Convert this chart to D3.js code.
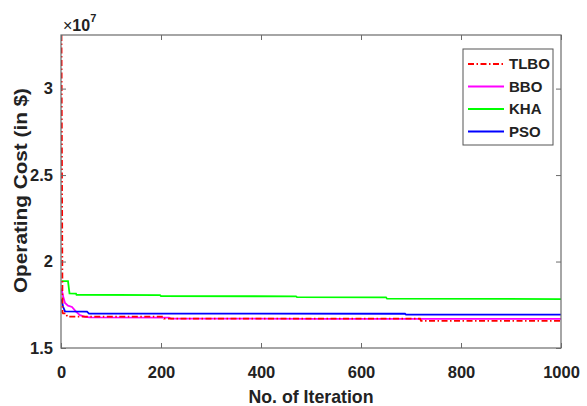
<!DOCTYPE html>
<html lang="en">
<head>
<meta charset="utf-8">
<title>Operating cost convergence</title>
<script src="https://d3js.org/d3.v7.min.js"></script>
<style>
    body { margin: 0; background: #fff; }
    #chart1 text { font-family: "Liberation Sans", Arial, sans-serif; font-weight: bold; fill: #222; }
    #chart1 .expo { font-size: 16px; }
    #chart1 .expo .sup { font-size: 11px; }
</style>
</head>
<body>
<div id="chart1"></div>
<script>
    // convergence curves: iteration breakpoints + cost at each breakpoint
    const seriesNames = ["TLBO", "BBO", "KHA", "PSO"];

    const tlboIter = [1, 3, 4, 11, 12, 204, 206, 718, 720, 1000];
    const tlboCost = [3.31e7, 1.705e7, 1.70e7, 1.70e7, 1.682e7, 1.682e7, 1.670e7, 1.670e7, 1.657e7, 1.657e7];

    const bboIter = [1, 4, 8, 14, 22, 30, 38, 48, 58, 216, 220, 500, 1000];
    const bboCost = [1.845e7, 1.80e7, 1.76e7, 1.745e7, 1.737e7, 1.71e7, 1.69e7, 1.68e7, 1.677e7, 1.676e7, 1.670e7, 1.669e7, 1.668e7];

    const khaIter = [1, 14, 17, 30, 31, 198, 200, 470, 472, 650, 652, 1000];
    const khaCost = [1.887e7, 1.887e7, 1.816e7, 1.815e7, 1.808e7, 1.806e7, 1.800e7, 1.799e7, 1.794e7, 1.793e7, 1.785e7, 1.783e7];

    const psoIter = [1, 4, 8, 52, 56, 688, 690, 1000];
    const psoCost = [1.783e7, 1.74e7, 1.712e7, 1.71e7, 1.699e7, 1.698e7, 1.693e7, 1.693e7];

    const xTicks = [0, 200, 400, 600, 800, 1000];
    const yTicks = [1.5e7, 2e7, 2.5e7, 3e7];
    const yTickLabels = ["1.5", "2", "2.5", "3"];

    const seriesColors = ["#ff0000", "#ff00ff", "#00ff00", "#0000ff"];

    const chartApp = {};

    chartApp.build = () => {
        const totalW = 587, totalH = 406;
        var margin = {top: 35, right: 26, bottom: 58, left: 61},
            width = totalW - margin.left - margin.right,
            height = totalH - margin.top - margin.bottom;

        var svg = d3.select("#chart1")
            .append("svg")
            .attr("width", totalW)
            .attr("height", totalH)
            .append("g")
            .attr("transform", "translate(" + margin.left + "," + margin.top + ")");

        var x = d3.scaleLinear().domain([0, 1000]).range([0, width]);
        var y = d3.scaleLinear().domain([1.5e7, 3.31e7]).range([height, 0]);

        // build the data rows from the arrays
        const allIters = [tlboIter, bboIter, khaIter, psoIter];
        const allCosts = [tlboCost, bboCost, khaCost, psoCost];
        const series = seriesNames.map((name, i) => ({
            name: name,
            color: seriesColors[i],
            values: allIters[i].map((it, j) => ({iter: it, cost: allCosts[i][j]}))
        }));

        var line = d3.line()
            .x(d => x(d.iter))
            .y(d => y(d.cost));

        svg.append("defs").append("clipPath").attr("id", "plotclip")
            .append("rect").attr("width", width).attr("height", height);

        // draw TLBO last so its dashes sit on top
        const drawOrder = [1, 2, 3, 0];
        svg.append("g").attr("clip-path", "url(#plotclip)")
            .selectAll("path")
            .data(drawOrder.map(i => series[i]))
            .join("path")
            .attr("d", d => line(d.values))
            .attr("fill", "none")
            .attr("stroke", d => d.color)
            .attr("stroke-width", 1.8)
            .attr("stroke-dasharray", d => d.name === "TLBO" ? "6,2.5,1.5,2.5" : null);

        // axes - ticks point inward, box drawn separately
        const axisColor = "#6b6b6b";
        var xAxis = d3.axisBottom(x).tickValues(xTicks).tickSize(-5).tickPadding(18)
            .tickFormat(d3.format("d"));
        var gx = svg.append("g").attr("transform", "translate(0," + height + ")").call(xAxis);

        var yAxis = d3.axisLeft(y).tickValues(yTicks).tickSize(-5).tickPadding(8)
            .tickFormat((d, i) => yTickLabels[i]);
        var gy = svg.append("g").call(yAxis);

        var gxTop = svg.append("g").call(d3.axisTop(x).tickValues(xTicks).tickSize(-5).tickFormat(""));
        var gyRight = svg.append("g").attr("transform", "translate(" + width + ",0)")
            .call(d3.axisRight(y).tickValues(yTicks).tickSize(-5).tickFormat(""));

        [gx, gy, gxTop, gyRight].forEach(g => {
            g.select(".domain").remove();
            g.selectAll(".tick line").attr("stroke", axisColor);
            g.selectAll("text").style("font-size", "16.5px");
        });

        svg.append("rect")
            .attr("width", width)
            .attr("height", height)
            .attr("fill", "none")
            .attr("stroke", axisColor)
            .attr("stroke-width", 1.2);

        // exponent label
        var expo = svg.append("text")
            .attr("class", "expo")
            .attr("x", 2)
            .attr("y", -4);
        expo.append("tspan").text("\u00d7").style("font-weight", "normal");
        expo.append("tspan").text("10");
        expo.append("tspan").attr("class", "sup").text("7").attr("dy", -9);

        // axis titles
        svg.append("text")
            .attr("x", width / 2)
            .attr("y", height + 55)
            .attr("text-anchor", "middle")
            .attr("textLength", 125)
            .attr("lengthAdjust", "spacingAndGlyphs")
            .style("font-size", "18.5px")
            .text("No. of Iteration");

        svg.append("text")
            .attr("transform", "translate(" + (27 - margin.left) + "," + (190.5 - margin.top) + ") rotate(-90)")
            .attr("text-anchor", "middle")
            .attr("textLength", 205)
            .attr("lengthAdjust", "spacingAndGlyphs")
            .style("font-size", "18.5px")
            .text("Operating Cost (in $)");

        // legend
        var lg = svg.append("g")
            .attr("transform", "translate(" + (463 - margin.left) + "," + (49 - margin.top) + ")");
        lg.append("rect")
            .attr("width", 90)
            .attr("height", 96)
            .attr("fill", "#fff")
            .attr("stroke", "#555")
            .attr("stroke-width", 1);

        var rows = lg.selectAll(".legend-row")
            .data(series)
            .join("g")
            .attr("class", "legend-row")
            .attr("transform", (d, i) => "translate(0," + (15 + i * 22.5) + ")");
        rows.append("line")
            .attr("x1", 5).attr("x2", 41)
            .attr("stroke", d => d.color)
            .attr("stroke-width", 1.8)
            .attr("stroke-dasharray", d => d.name === "TLBO" ? "6,2.5,1.5,2.5" : null);
        rows.append("text")
            .attr("x", 46)
            .attr("dy", "0.36em")
            .style("font-size", "15px")
            .text(d => d.name);
    };

    chartApp.build();
</script>
</body>
</html>
